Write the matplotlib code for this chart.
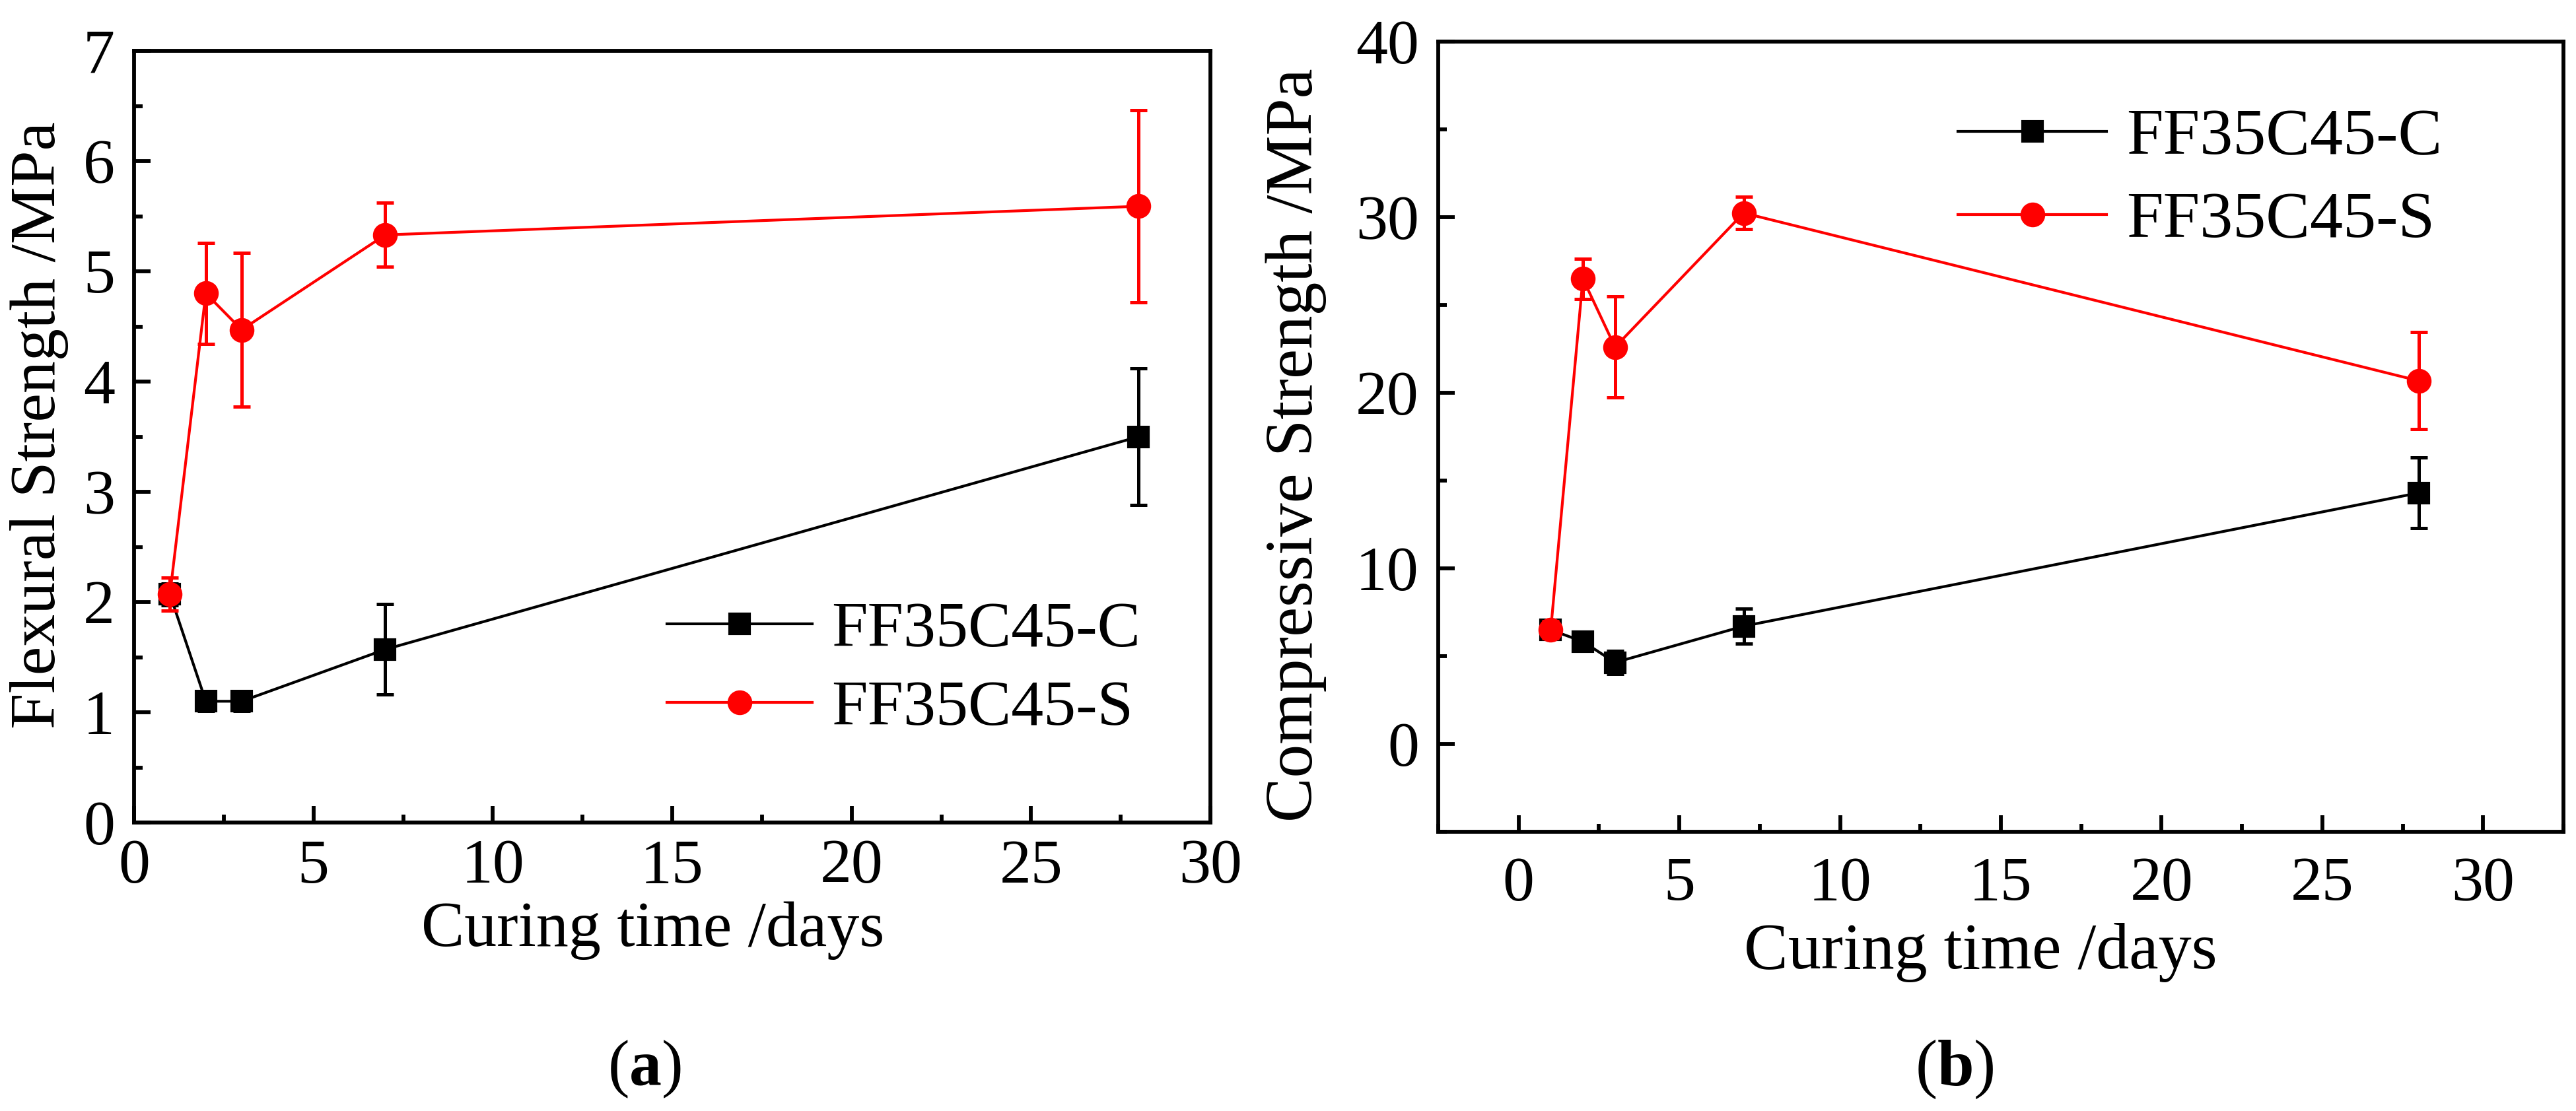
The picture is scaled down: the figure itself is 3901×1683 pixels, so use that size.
import matplotlib
matplotlib.use('Agg')
import matplotlib.pyplot as plt
from matplotlib.ticker import MultipleLocator

plt.rcParams['font.family'] = 'Liberation Serif'
plt.rcParams['mathtext.fontset'] = 'custom'
plt.rcParams['mathtext.rm'] = 'Liberation Serif'
plt.rcParams['mathtext.bf'] = 'Liberation Serif:bold'

# curing age (days)
days = [1, 2, 3, 7, 28]

# (a) flexural strength, MPa
flex_c = [2.07, 1.10, 1.10, 1.57, 3.50]
flex_c_err = [0.10, 0.09, 0.09, 0.41, 0.62]
flex_s = [2.07, 4.80, 4.47, 5.33, 5.59]
flex_s_err = [0.15, 0.46, 0.70, 0.29, 0.87]

# (b) compressive strength, MPa
comp_c = [6.5, 5.83, 4.64, 6.71, 14.3]
comp_c_err = [0.3, 0.3, 0.65, 0.98, 2.0]
comp_s = [6.5, 26.5, 22.6, 30.24, 20.68]
comp_s_err = [0.5, 1.15, 2.88, 0.93, 2.76]

labels = ['FF35C45-C', 'FF35C45-S']

W, H = 3901, 1683
fig = plt.figure(figsize=(W / 300, H / 300), dpi=300)

ax1 = fig.add_axes([203 / W, 1 - 1246 / H, 1630 / W, 1169 / H])
ax2 = fig.add_axes([2178 / W, 1 - 1260 / H, 1704 / W, 1197 / H])


def draw(ax, yc, yc_err, ys, ys_err):
    # error bars first, lines with markers on top (legend shows no bars)
    ax.errorbar(days, yc, yerr=yc_err, fmt='none', ecolor='black',
                elinewidth=1.2, capsize=3.2, capthick=1.2)
    ax.plot(days, yc, color='black', lw=1.0, marker='s', ms=7,
            label=labels[0])
    ax.errorbar(days, ys, yerr=ys_err, fmt='none', ecolor='#ff0000',
                elinewidth=1.2, capsize=3.2, capthick=1.2)
    ax.plot(days, ys, color='#ff0000', lw=1.0, marker='o', ms=8,
            label=labels[1])
    for sp in ax.spines.values():
        sp.set_linewidth(1.4)
    ax.tick_params(which='both', direction='in', top=False, right=False,
                   width=1.4, labelsize=23)
    ax.tick_params(which='major', length=6)
    ax.tick_params(which='minor', length=3)


draw(ax1, flex_c, flex_c_err, flex_s, flex_s_err)
ax1.set_xlim(0, 30)
ax1.set_ylim(0, 7)
ax1.xaxis.set_major_locator(MultipleLocator(5))
ax1.xaxis.set_minor_locator(MultipleLocator(2.5))
ax1.yaxis.set_major_locator(MultipleLocator(1))
ax1.yaxis.set_minor_locator(MultipleLocator(0.5))
ax1.tick_params(axis='x', pad=6)
ax1.tick_params(axis='y', pad=7)
ax1.legend(loc='upper left', bbox_to_anchor=(0.495, 0.287), frameon=False,
           fontsize=23.5, handlelength=2.25, handletextpad=0.3,
           labelspacing=0.3, borderpad=0, borderaxespad=0)

draw(ax2, comp_c, comp_c_err, comp_s, comp_s_err)
ax2.set_xlim(-2.5, 32.5)
ax2.set_ylim(-5, 40)
ax2.xaxis.set_major_locator(MultipleLocator(5))
ax2.xaxis.set_minor_locator(MultipleLocator(2.5))
ax2.yaxis.set_major_locator(MultipleLocator(10))
ax2.yaxis.set_minor_locator(MultipleLocator(5))
ax2.tick_params(axis='x', pad=9)
ax2.tick_params(axis='y', pad=7)
ax2.legend(loc='upper left', bbox_to_anchor=(0.462, 0.916), frameon=False,
           fontsize=24, handlelength=2.25, handletextpad=0.3,
           labelspacing=0.35, borderpad=0, borderaxespad=0)

fig.text(60 / W, 1 - 644 / H, 'Flexural Strength /MPa', rotation=90,
         ha='center', va='center', fontsize=23.5)
fig.text(989 / W, 1 - 1410 / H, 'Curing time /days', ha='center',
         va='center', fontsize=23.5)
fig.text(976 / W, 1 - 1620 / H, r'($\mathbf{a}$)', ha='center', va='center',
         fontsize=23.5)

fig.text(1963 / W, 1 - 674 / H, 'Compressive Strength /MPa', rotation=90,
         ha='center', va='center', fontsize=24.3)
fig.text(2999 / W, 1 - 1443 / H, 'Curing time /days', ha='center',
         va='center', fontsize=24)
fig.text(2960 / W, 1 - 1620 / H, r'($\mathbf{b}$)', ha='center', va='center',
         fontsize=24)

fig.savefig('out.png', dpi=300)
